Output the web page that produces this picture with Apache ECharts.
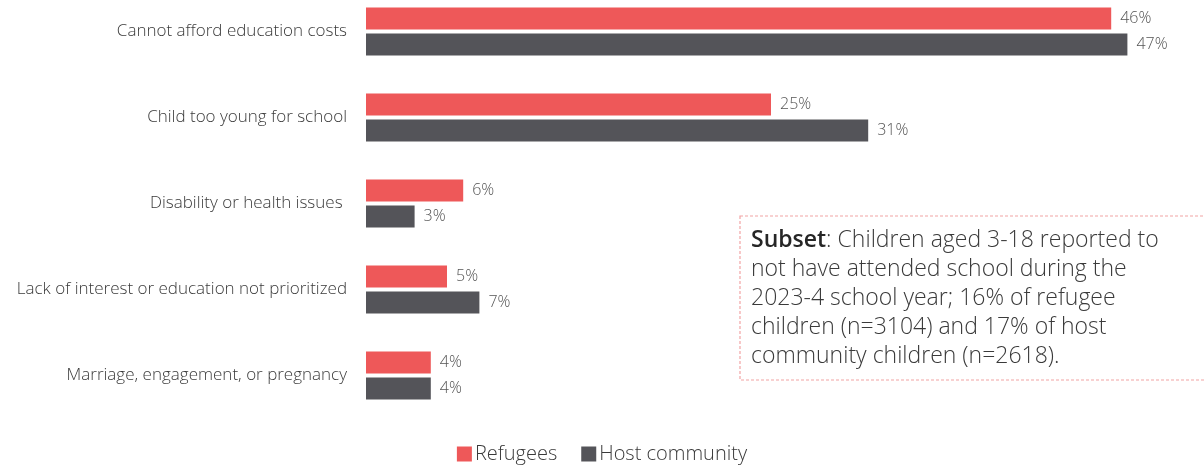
<!DOCTYPE html>
<html>
<head>
<meta charset="utf-8">
<script src="https://cdn.jsdelivr.net/npm/echarts@6/dist/echarts.min.js"></script>
<style>
  html, body { margin: 0; padding: 0; background: #ffffff; }
  #chart { width: 1204px; height: 467px; }
</style>
</head>
<body>
<div id="chart"></div>
<script>
// Reasons for children not attending school
const categories = [
  'Cannot afford education costs',
  'Child too young for school',
  'Disability or health issues ',
  'Lack of interest or education not prioritized',
  'Marriage, engagement, or pregnancy'
];
const refugees = [46, 25, 6, 5, 4];
const hostCommunity = [47, 31, 3, 7, 4];
const seriesNames = ['Refugees', 'Host community'];
const noteLines = [
  'Children aged 3-18 reported to',
  'not have attended school during the',
  '2023-4 school year; 16% of refugee',
  'children (n=3104) and 17% of host',
  'community children (n=2618).'
];

const RED = '#EE5859';
const GREY = '#545459';
const FONT = '"Open Sans", "Noto Sans", sans-serif';

const chart = echarts.init(document.getElementById('chart'), null, { renderer: 'canvas' });

const valueLabel = {
  show: true,
  position: 'right',
  distance: 9,
  formatter: p => p.value + '%',
  color: '#555555',
  fontFamily: FONT,
  fontSize: 16,
  fontWeight: 300
};

chart.setOption({
  animation: false,
  backgroundColor: '#ffffff',
  textStyle: { fontFamily: FONT },
  grid: {
    left: 366, top: -11.5, width: 810, height: 430,
    containLabel: false, outerBoundsMode: 'none'
  },
  xAxis: {
    type: 'value', min: 0, max: 50,
    show: false
  },
  yAxis: {
    type: 'category',
    data: categories,
    inverse: true,
    axisLine: { show: false },
    axisTick: { show: false },
    axisLabel: {
      color: '#3a3a3a', fontSize: 17, fontWeight: 300, fontFamily: FONT,
      margin: 19, padding: [4, 0, 0, 0]
    }
  },
  legend: {
    data: seriesNames,
    bottom: -2,
    left: 'center',
    itemWidth: 15,
    itemHeight: 15,
    itemGap: 24,
    icon: 'rect',
    textStyle: { color: '#3a3a3a', fontSize: 20, fontWeight: 300, fontFamily: FONT, padding: [0, 0, 0, -2] }
  },
  series: [
    {
      name: seriesNames[0], type: 'bar', data: refugees,
      barWidth: 22, barGap: '18%',
      itemStyle: { color: RED },
      label: valueLabel
    },
    {
      name: seriesNames[1], type: 'bar', data: hostCommunity,
      barWidth: 22,
      itemStyle: { color: GREY },
      label: valueLabel
    }
  ],
  graphic: [
    {
      type: 'rect',
      shape: { x: 740, y: 216, width: 480, height: 164 },
      style: { fill: '#ffffff', stroke: '#F2A3A4', lineWidth: 1.2, lineDash: [3, 2] },
      z: 10
    },
    {
      type: 'text',
      left: 751, top: 226,
      z: 11,
      style: {
        text: '{b|Subset}: ' + noteLines.join('\n'),
        fontFamily: FONT,
        fontSize: 23,
        fontWeight: 300,
        lineHeight: 29,
        fill: '#3a3a3a',
        rich: {
          b: { fontFamily: FONT, fontSize: 23, fontWeight: 600, fill: '#262626', lineHeight: 29 }
        }
      }
    }
  ]
});
</script>
</body>
</html>
